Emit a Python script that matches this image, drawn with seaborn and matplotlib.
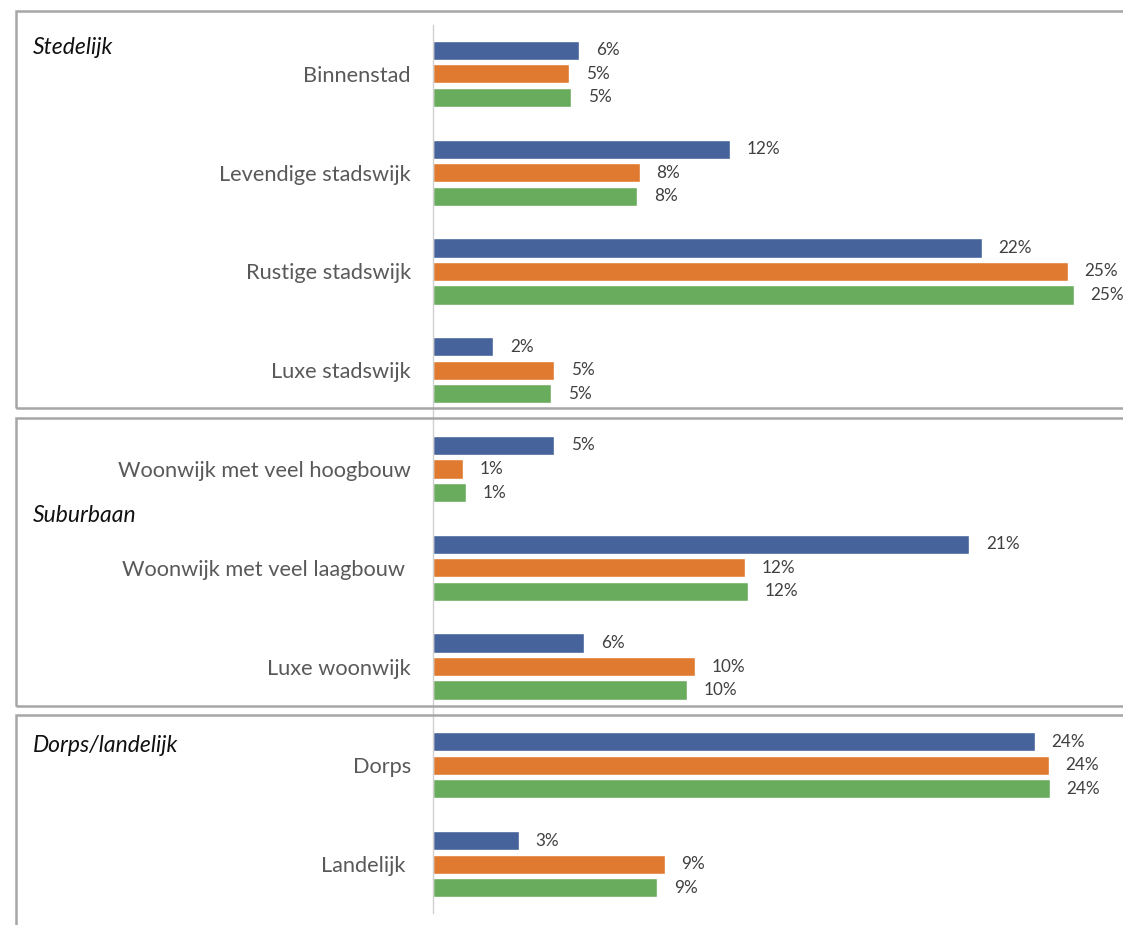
import matplotlib
matplotlib.use("Agg")
import matplotlib.pyplot as plt
from matplotlib.patches import Rectangle
import pandas as pd
import seaborn as sns

# Woonmilieus en aandelen per meting (in %)
categories = [
    "Binnenstad",
    "Levendige stadswijk",
    "Rustige stadswijk",
    "Luxe stadswijk",
    "Woonwijk met veel hoogbouw",
    "Woonwijk met veel laagbouw ",
    "Luxe woonwijk",
    "Dorps",
    "Landelijk ",
]
series_names = ["Meting 1", "Meting 2", "Meting 3"]
values_1 = [5.8, 11.8, 21.8, 2.4, 4.8, 21.3, 6.0, 23.9, 3.4]
values_2 = [5.4, 8.2, 25.2, 4.8, 1.2, 12.4, 10.4, 24.45, 9.2]
values_3 = [5.49, 8.1, 25.45, 4.7, 1.3, 12.49, 10.1, 24.49, 8.9]
group_labels = ["Stedelijk", "Suburbaan", "Dorps/landelijk"]

colors = ["#46639b", "#e07a30", "#6aac5e"]

df = pd.DataFrame({
    "woonmilieu": categories * 3,
    "meting": [s for s in series_names for _ in categories],
    "aandeel": values_1 + values_2 + values_3,
})

sns.set_theme(style="white")
plt.rcParams["font.family"] = ["Lato", "DejaVu Sans"]

W, H = 1123, 925
fig = plt.figure(figsize=(W / 100, H / 100), dpi=100)

# Axes placed in pixel terms, converted to figure fractions
ax_left, ax_right = 433, 1113
ax_top, ax_bottom = 24.6, 913.4
ax = fig.add_axes([ax_left / W, 1 - ax_bottom / H,
                   (ax_right - ax_left) / W, (ax_bottom - ax_top) / H])

sns.barplot(data=df, y="woonmilieu", x="aandeel", hue="meting",
            hue_order=series_names, order=categories, palette=colors,
            orient="h", width=0.714, gap=0.19, legend=False, ax=ax,
            saturation=1, errorbar=None)

ax.set_xlim(0, 27)
ax.set_ylim(8.5, -0.5)
ax.set_xlabel("")
ax.set_ylabel("")
ax.set_xticks([])
for side in ["top", "right", "bottom"]:
    ax.spines[side].set_visible(False)
ax.spines["left"].set_color("#d0d0d0")
ax.spines["left"].set_linewidth(1.0)
ax.tick_params(axis="y", length=0, pad=16, labelsize=15.7, labelcolor="#595959")

for cont in ax.containers:
    ax.bar_label(cont, fmt="{:.0f}%", padding=12, fontsize=12.3, color="#404040")

# Group frames
frame_kw = dict(fill=False, edgecolor="#a6a6a6", linewidth=1.8,
                transform=fig.transFigure, figure=fig, zorder=0)
frames = [(11, 408), (418, 706), (715, 940)]
for top, bottom in frames:
    fig.patches.append(Rectangle((16 / W, 1 - bottom / H),
                                 (1140 - 16) / W, (bottom - top) / H, **frame_kw))

label_y = [48, 516, 745]
for text, y in zip(group_labels, label_y):
    fig.text(33 / W, 1 - y / H, text, fontsize=16.5, style="italic",
             color="#111111", va="center", ha="left")

fig.savefig("out.png", dpi=100, facecolor="white")
